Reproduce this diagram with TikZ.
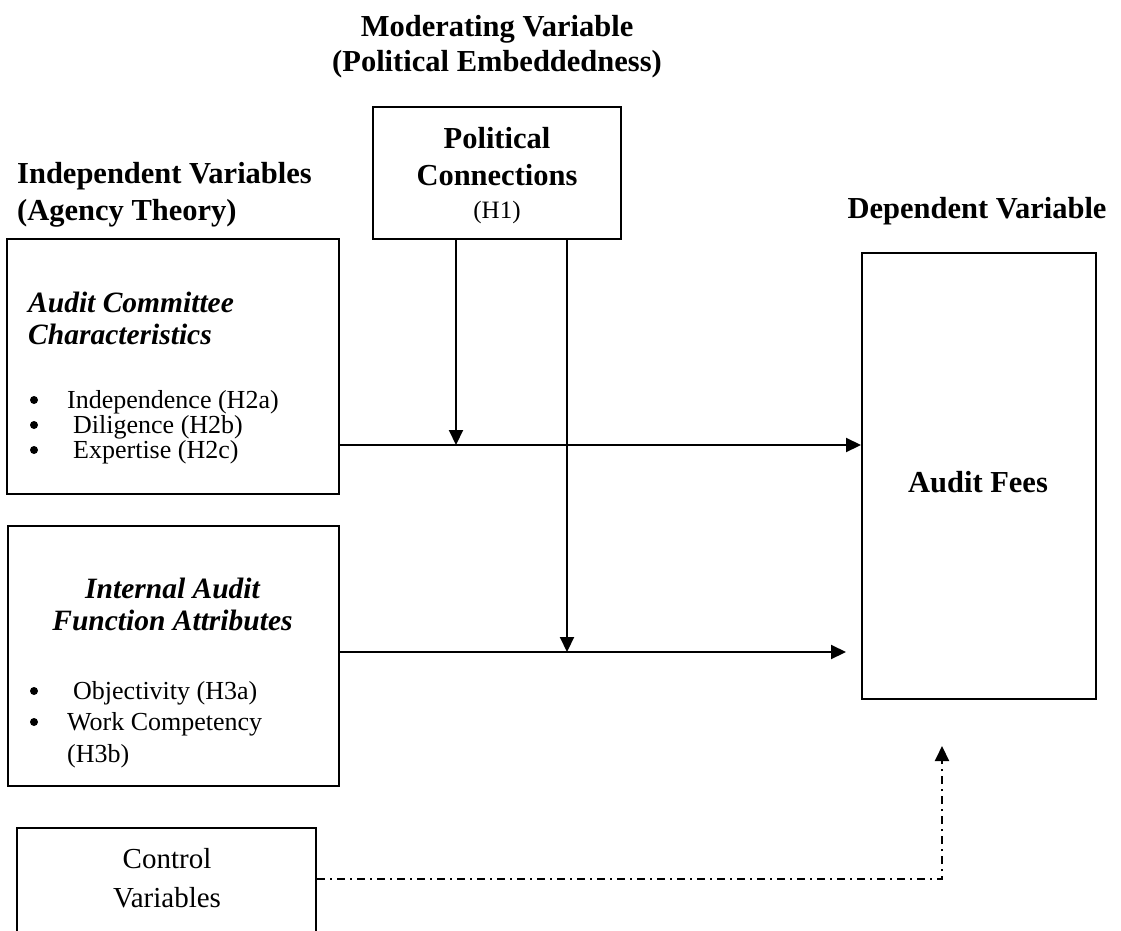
\documentclass[tikz,border=0pt]{standalone}
\usepackage{fontspec}
\setmainfont{Liberation Serif}
\usetikzlibrary{arrows.meta}
\begin{document}
\begin{tikzpicture}[x=1pt,y=-1pt,
  box/.style={draw, line width=2pt, rectangle, inner sep=0pt},
  conn/.style={line width=2.1pt, -{Triangle[length=15pt,width=14pt]}},
  ctl/.style={conn, dash pattern=on 8pt off 5pt on 2pt off 5pt},
  head/.style={font=\fontsize{30.5}{36}\bfseries\selectfont, inner sep=0pt},
  boxhead/.style={font=\fontsize{29.5}{33}\bfseries\itshape\selectfont, inner sep=0pt},
  item/.style={font=\fontsize{26}{30}\selectfont, inner sep=0pt, anchor=base west},
  dot/.style={circle, fill, inner sep=0pt, minimum size=8pt},
  plain/.style={font=\fontsize{29}{33}\selectfont, inner sep=0pt, anchor=base}
]
\clip (0,0) rectangle (1121,931);

% group headings
\node[head, anchor=base] (modA) at (497,37) {Moderating Variable};
\node[head, anchor=base] (modB) at (497,72) {(Political Embeddedness)};
\node[head, anchor=base west] (indA) at (17,183) {Independent Variables};
\node[head, anchor=base west] (indB) at (17,220) {(Agency Theory)};
\node[head, anchor=base] (depA) at (977,218) {Dependent Variable};

% boxes
\node[box, minimum width=248pt, minimum height=132pt] (PC) at (497,173) {};
\node[box, minimum width=332pt, minimum height=255pt] (AC) at (173,366.5) {};
\node[box, minimum width=331pt, minimum height=260pt] (IA) at (173.5,656) {};
\node[box, minimum width=299pt, minimum height=142pt] (CV) at (166.5,899) {};
\node[box, minimum width=234pt, minimum height=446pt] (AF) at (979,476) {};

% political connections
\node[head, anchor=base] (pcA) at (497,148) {Political};
\node[head, anchor=base] (pcB) at (497,185) {Connections};
\node[font=\fontsize{25}{28}\selectfont, inner sep=0pt, anchor=base] (pcC) at (497,218) {(H1)};

% audit committee characteristics
\node[boxhead, anchor=base west] (acA) at (28,312) {Audit Committee};
\node[boxhead, anchor=base west] (acB) at (28,344) {Characteristics};
\node[dot] (b1) at (34,400) {};
\node[item] (i1) at (67,408) {Independence (H2a)};
\node[dot] (b2) at (34,425) {};
\node[item] (i2) at (73,433) {Diligence (H2b)};
\node[dot] (b3) at (34,450) {};
\node[item] (i3) at (73,458) {Expertise (H2c)};

% internal audit function attributes
\node[boxhead, anchor=base] (iaA) at (172.5,598) {Internal Audit};
\node[boxhead, anchor=base] (iaB) at (172.5,630) {Function Attributes};
\node[dot] (b4) at (34,691) {};
\node[item] (i4) at (73,699) {Objectivity (H3a)};
\node[dot] (b5) at (34,722) {};
\node[item] (i5) at (67,730) {Work Competency};
\node[item] (i6) at (67,762) {(H3b)};

% control variables
\node[plain] (cvA) at (167,868) {Control};
\node[plain] (cvB) at (167,907) {Variables};

% dependent variable
\node[head, anchor=base] (afA) at (978,492) {Audit Fees};

% junctions of the moderating paths
\coordinate (j1) at (456,445);
\coordinate (j2) at (567,652);
\coordinate (k) at (942,879);

% connectors
\draw[conn] (AC.east |- j1) -- (AF.west |- j1);
\draw[conn] (PC.south -| j1) -- (j1);
\draw[conn] (IA.east |- j2) -- ([xshift=-15pt]AF.west |- j2);
\draw[conn] (PC.south -| j2) -- (j2);
\draw[ctl] (CV.east |- k) -- (k) -- ([yshift=-46pt]AF.south -| k);
\end{tikzpicture}
\end{document}
